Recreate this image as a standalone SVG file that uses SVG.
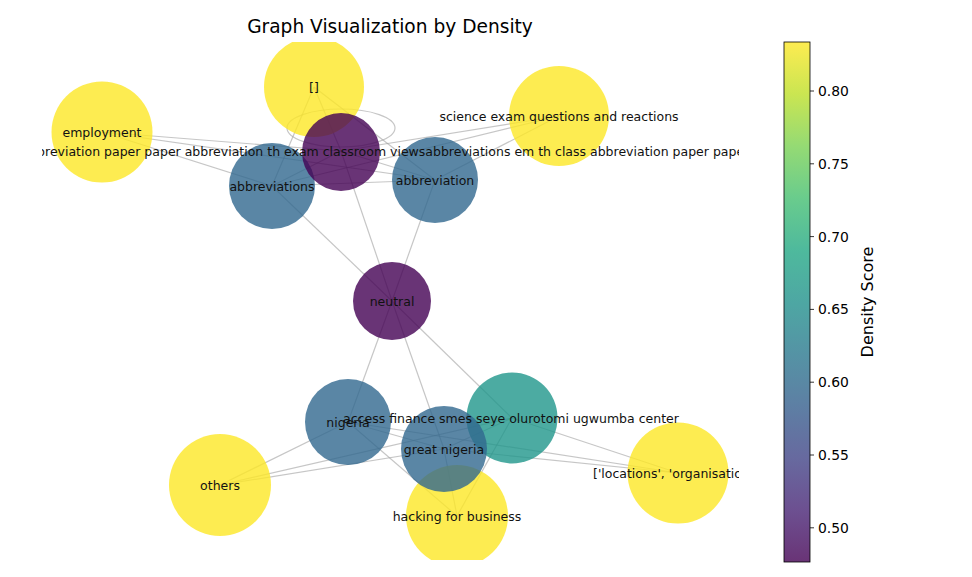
<svg xmlns="http://www.w3.org/2000/svg" width="972" height="577" viewBox="0 0 972 577">
<style>
text{font-family:"DejaVu Sans","Liberation Sans",sans-serif;fill:#000}
.lbl{font-size:12.5px;text-anchor:middle;dominant-baseline:central;fill:#111}
.tick{font-size:13.9px;dominant-baseline:central}
.e{stroke:#a0a0a0;stroke-opacity:0.6;stroke-width:1.2;fill:none}
.y{fill:#fde725;fill-opacity:0.8}
.p{fill:#440154;fill-opacity:0.8}
.b{fill:#31688e;fill-opacity:0.8}
.t{fill:#1f968b;fill-opacity:0.8}
</style>
<defs>
<clipPath id="ax"><rect x="42" y="42" width="697" height="518"/></clipPath>
<linearGradient id="vir" x1="0" y1="1" x2="0" y2="0">
<stop offset="0" stop-color="#440154"/>
<stop offset="0.1" stop-color="#482475"/>
<stop offset="0.2" stop-color="#414487"/>
<stop offset="0.3" stop-color="#355f8d"/>
<stop offset="0.4" stop-color="#2a788e"/>
<stop offset="0.5" stop-color="#21918c"/>
<stop offset="0.6" stop-color="#22a884"/>
<stop offset="0.7" stop-color="#44bf70"/>
<stop offset="0.8" stop-color="#7ad151"/>
<stop offset="0.9" stop-color="#bddf26"/>
<stop offset="1" stop-color="#fde725"/>
</linearGradient>
</defs>
<rect width="972" height="577" fill="#fff"/>
<text x="390" y="33" font-size="18.6" text-anchor="middle">Graph Visualization by Density</text>
<g clip-path="url(#ax)">
<g id="edges">
<line class="e" x1="314" y1="87" x2="272" y2="186"/>
<line class="e" x1="314" y1="87" x2="435" y2="180"/>
<line class="e" x1="314" y1="87" x2="341" y2="151"/>
<line class="e" x1="102" y1="132" x2="341" y2="151"/>
<line class="e" x1="102" y1="132" x2="435" y2="180"/>
<line class="e" x1="102" y1="132" x2="272" y2="186"/>
<line class="e" x1="559" y1="116" x2="341" y2="151"/>
<line class="e" x1="559" y1="116" x2="272" y2="186"/>
<line class="e" x1="559" y1="116" x2="435" y2="180"/>
<ellipse class="e" cx="341" cy="128" rx="54" ry="19"/>
<line class="e" x1="341" y1="151" x2="272" y2="186"/>
<line class="e" x1="341" y1="151" x2="435" y2="180"/>
<line class="e" x1="272" y1="186" x2="435" y2="180"/>
<line class="e" x1="272" y1="186" x2="392" y2="301"/>
<line class="e" x1="341" y1="151" x2="392" y2="301"/>
<line class="e" x1="435" y1="180" x2="392" y2="301"/>
<line class="e" x1="392" y1="301" x2="348" y2="422"/>
<line class="e" x1="392" y1="301" x2="444" y2="449"/>
<line class="e" x1="392" y1="301" x2="512" y2="418"/>
<line class="e" x1="220" y1="485" x2="348" y2="422"/>
<line class="e" x1="220" y1="485" x2="444" y2="449"/>
<line class="e" x1="220" y1="485" x2="512" y2="418"/>
<line class="e" x1="348" y1="422" x2="457" y2="516"/>
<line class="e" x1="348" y1="422" x2="678" y2="473"/>
<line class="e" x1="348" y1="422" x2="444" y2="449"/>
<line class="e" x1="444" y1="449" x2="457" y2="516"/>
<line class="e" x1="444" y1="449" x2="678" y2="473"/>
<line class="e" x1="512" y1="418" x2="457" y2="516"/>
<line class="e" x1="512" y1="418" x2="678" y2="473"/>
<line class="e" x1="512" y1="418" x2="444" y2="449"/>
</g>
<g id="n-brackets"><circle class="y" cx="314" cy="87" r="50"/></g>
<g id="n-employment"><circle class="y" cx="102" cy="132" r="50.5"/></g>
<g id="n-science"><circle class="y" cx="559" cy="116" r="50"/></g>
<g id="n-abbreviations"><circle class="b" cx="272" cy="186" r="43"/></g>
<g id="n-abbreviation"><circle class="b" cx="435" cy="180" r="43"/></g>
<g id="n-long"><circle class="p" cx="341" cy="152" r="39"/></g>
<g id="n-neutral"><circle class="p" cx="392" cy="301" r="39"/></g>
<g id="n-nigeria"><circle class="b" cx="348" cy="422" r="43"/></g>
<g id="n-others"><circle class="y" cx="220" cy="485" r="51"/></g>
<g id="n-hacking"><circle class="y" cx="457" cy="516" r="51"/></g>
<g id="n-access"><circle class="t" cx="512" cy="418" r="45.5"/></g>
<g id="n-great-nigeria"><circle class="b" cx="444" cy="449" r="43"/></g>
<g id="n-locations"><circle class="y" cx="678" cy="473" r="50.5"/></g>
<g id="labels">
<text class="lbl" x="314" y="87">[]</text>
<text class="lbl" x="102" y="132">employment</text>
<text class="lbl" x="559" y="116">science exam questions and reactions</text>
<text class="lbl" x="21.5" y="151" style="text-anchor:start">abbreviation paper paper abbreviation th exam classroom viewsabbreviations em th class abbreviation paper paper</text>
<text class="lbl" x="272" y="186">abbreviations</text>
<text class="lbl" x="435" y="180">abbreviation</text>
<text class="lbl" x="392" y="301">neutral</text>
<text class="lbl" x="348" y="422">nigeria</text>
<text class="lbl" x="511" y="418">access finance smes seye olurotomi ugwumba center</text>
<text class="lbl" x="444" y="449">great nigeria</text>
<text class="lbl" x="220" y="485">others</text>
<text class="lbl" x="457" y="516">hacking for business</text>
<text class="lbl" x="593" y="473" style="text-anchor:start">['locations', 'organisations']</text>
</g>
</g>
<g id="colorbar">
<rect x="784" y="42" width="26" height="520" fill="url(#vir)" fill-opacity="0.8" stroke="#000" stroke-width="0.8"/>
<g stroke="#000" stroke-width="0.8">
<line x1="810" y1="91" x2="814" y2="91"/>
<line x1="810" y1="163.8" x2="814" y2="163.8"/>
<line x1="810" y1="236.6" x2="814" y2="236.6"/>
<line x1="810" y1="309.4" x2="814" y2="309.4"/>
<line x1="810" y1="382.2" x2="814" y2="382.2"/>
<line x1="810" y1="455" x2="814" y2="455"/>
<line x1="810" y1="527.8" x2="814" y2="527.8"/>
</g>
<text class="tick" x="818" y="91">0.80</text>
<text class="tick" x="818" y="163.8">0.75</text>
<text class="tick" x="818" y="236.6">0.70</text>
<text class="tick" x="818" y="309.4">0.65</text>
<text class="tick" x="818" y="382.2">0.60</text>
<text class="tick" x="818" y="455">0.55</text>
<text class="tick" x="818" y="527.8">0.50</text>
<text x="873" y="302" font-size="16" text-anchor="middle" transform="rotate(-90 873 302)">Density Score</text>
</g>
</svg>
